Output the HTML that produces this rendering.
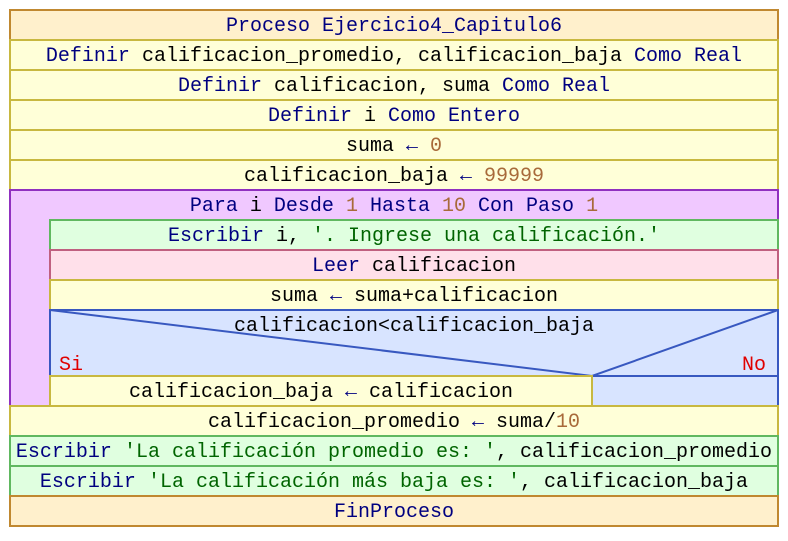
<!DOCTYPE html>
<html><head><meta charset="utf-8"><style>
body{margin:0;background:#fff}
text{font-family:"Liberation Mono",monospace;font-size:20px;fill:#000}
.k{fill:#000080}.n{fill:#a86a3a}.s{fill:#006400}.r{fill:#e00000}
</style></head><body>
<svg width="788" height="536" xmlns="http://www.w3.org/2000/svg">
<g stroke-width="2">
<rect x="10" y="10" width="768" height="30" fill="#fff0cc" stroke="#c08830"/>
<rect x="10" y="40" width="768" height="30" fill="#ffffd8" stroke="#c8b840"/>
<rect x="10" y="70" width="768" height="30" fill="#ffffd8" stroke="#c8b840"/>
<rect x="10" y="100" width="768" height="30" fill="#ffffd8" stroke="#c8b840"/>
<rect x="10" y="130" width="768" height="30" fill="#ffffd8" stroke="#c8b840"/>
<rect x="10" y="160" width="768" height="30" fill="#ffffd8" stroke="#c8b840"/>
<rect x="10" y="190" width="768" height="216" fill="#f0c8ff" stroke="#9030c0"/>
<rect x="50" y="220" width="728" height="30" fill="#e0ffe0" stroke="#60b860"/>
<rect x="50" y="250" width="728" height="30" fill="#ffe0ea" stroke="#c06080"/>
<rect x="50" y="280" width="728" height="30" fill="#ffffd8" stroke="#c8b840"/>
<rect x="50" y="310" width="728" height="96" fill="#d8e4ff" stroke="#3858c0"/>
<polyline points="50,310 592,376 778,310" fill="none" stroke="#3858c0"/>
<line x1="50" y1="376" x2="778" y2="376" stroke="#3858c0"/>
<rect x="50" y="376" width="542" height="30" fill="#ffffd8" stroke="#c8b840"/>
<rect x="10" y="406" width="768" height="30" fill="#ffffd8" stroke="#c8b840"/>
<rect x="10" y="436" width="768" height="30" fill="#e0ffe0" stroke="#60b860"/>
<rect x="10" y="466" width="768" height="30" fill="#e0ffe0" stroke="#60b860"/>
<rect x="10" y="496" width="768" height="30" fill="#fff0cc" stroke="#c08830"/>
</g>
<g text-anchor="middle">
<text x="394" y="31"><tspan class="k">Proceso Ejercicio4_Capitulo6</tspan></text>
<text x="394" y="61"><tspan class="k">Definir</tspan> calificacion_promedio, calificacion_baja <tspan class="k">Como Real</tspan></text>
<text x="394" y="91"><tspan class="k">Definir</tspan> calificacion, suma <tspan class="k">Como Real</tspan></text>
<text x="394" y="121"><tspan class="k">Definir</tspan> i <tspan class="k">Como Entero</tspan></text>
<text x="394" y="151">suma <tspan class="k">←</tspan> <tspan class="n">0</tspan></text>
<text x="394" y="181">calificacion_baja <tspan class="k">←</tspan> <tspan class="n">99999</tspan></text>
<text x="394" y="211"><tspan class="k">Para</tspan> i <tspan class="k">Desde</tspan> <tspan class="n">1</tspan> <tspan class="k">Hasta</tspan> <tspan class="n">10</tspan> <tspan class="k">Con Paso</tspan> <tspan class="n">1</tspan></text>
<text x="414" y="241"><tspan class="k">Escribir</tspan> i, <tspan class="s">'. Ingrese una calificación.'</tspan></text>
<text x="414" y="271"><tspan class="k">Leer</tspan> calificacion</text>
<text x="414" y="301">suma <tspan class="k">←</tspan> suma+calificacion</text>
<text x="414" y="331">calificacion&lt;calificacion_baja</text>
<text x="321" y="397">calificacion_baja <tspan class="k">←</tspan> calificacion</text>
<text x="394" y="427">calificacion_promedio <tspan class="k">←</tspan> suma/<tspan class="n">10</tspan></text>
<text x="394" y="457"><tspan class="k">Escribir</tspan> <tspan class="s">'La calificación promedio es: '</tspan>, calificacion_promedio</text>
<text x="394" y="487"><tspan class="k">Escribir</tspan> <tspan class="s">'La calificación más baja es: '</tspan>, calificacion_baja</text>
<text x="394" y="517"><tspan class="k">FinProceso</tspan></text>
</g>
<text x="59" y="370" class="r">Si</text>
<text x="766" y="370" class="r" text-anchor="end">No</text>
</svg>
</body></html>
